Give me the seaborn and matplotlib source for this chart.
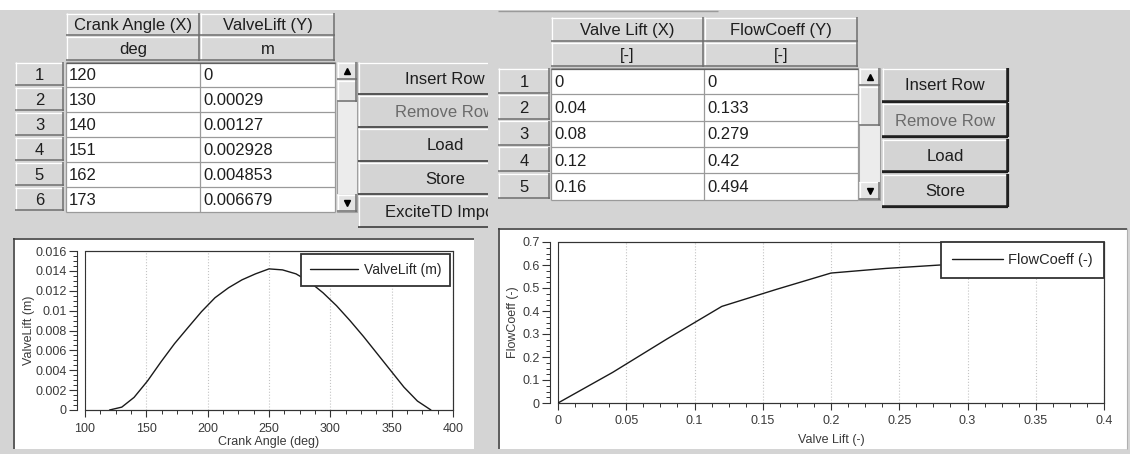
import matplotlib
matplotlib.use("Agg")
import matplotlib.pyplot as plt
from matplotlib.patches import Rectangle
from matplotlib.ticker import MultipleLocator, AutoMinorLocator, FuncFormatter
import pandas as pd
import seaborn as sns

# valve lift curve (left table + left chart)
crank_angle = [120, 130, 140, 151, 162, 173, 184, 195, 206, 217, 228, 239, 250,
               261, 272, 283, 294, 305, 316, 327, 338, 349, 360, 371, 382]
valve_lift = [0, 0.00029, 0.00127, 0.002928, 0.004853, 0.006679, 0.0083, 0.0099,
              0.0113, 0.0123, 0.0131, 0.0137, 0.0142, 0.0141, 0.0137, 0.0129,
              0.0118, 0.0105, 0.0090, 0.0074, 0.0057, 0.0040, 0.0023, 0.0009, 0]

# flow coefficient (right table + right chart)
lift_ratio = [0, 0.04, 0.08, 0.12, 0.16, 0.2, 0.24, 0.28, 0.32]
flow_coeff = [0, 0.133, 0.279, 0.42, 0.494, 0.565, 0.585, 0.6, 0.61]

left_headers = ["Crank Angle (X)", "ValveLift (Y)"]
left_units = ["deg", "m"]
right_headers = ["Valve Lift (X)", "FlowCoeff (Y)"]
right_units = ["[-]", "[-]"]
left_buttons = ["Insert Row", "Remove Row", "Load", "Store", "ExciteTD Import"]
right_buttons = ["Insert Row", "Remove Row", "Load", "Store"]

W, H = 1130, 454
GREY = "#d4d4d4"
INK = "#1e1e1e"

sns.set_style("ticks")
plt.rcParams["font.family"] = ["Liberation Sans", "DejaVu Sans"]

fig = plt.figure(figsize=(W / 100, H / 100), dpi=100, facecolor=GREY)
ui = fig.add_axes([0, 0, 1, 1])
ui.set_xlim(0, W)
ui.set_ylim(H, 0)
ui.axis("off")


def px_axes(x0, y0, x1, y1):
    return fig.add_axes([x0 / W, 1 - y1 / H, (x1 - x0) / W, (y1 - y0) / H])


def box(x0, y0, x1, y1, fc, ec="none", lw=0.75):
    r = Rectangle((x0, y0), x1 - x0, y1 - y0, facecolor=fc, edgecolor=ec, lw=lw)
    ui.add_patch(r)
    return r


def line(xs, ys, color, lw=0.75):
    return ui.plot(xs, ys, color=color, lw=lw, solid_capstyle="butt")


def raised(x0, y0, x1, y1, fc="#d8d8d8", dark="#6e6e6e", clip=None):
    arts = [box(x0, y0, x1, y1, fc)]
    arts += line([x0, x1 - 1], [y0 + 0.5, y0 + 0.5], "white", 0.9)
    arts += line([x0 + 0.5, x0 + 0.5], [y0, y1 - 1], "white", 0.9)
    arts += line([x0, x1], [y1 - 0.75, y1 - 0.75], dark, 1.1)
    arts += line([x1 - 0.75, x1 - 0.75], [y0, y1], dark, 1.1)
    if clip is not None:
        for a in arts:
            a.set_clip_path(clip)


def label(x, y, s, ha="center", color=INK, size=12, clip=None):
    t = ui.text(x, y, s, ha=ha, va="center", fontsize=size, color=color,
                clip_on=clip is not None)
    if clip is not None:
        t.set_clip_path(clip)


def table(num_x, col_x, head_y, row_y0, row_h, headers, units, xs, ys):
    # header rows
    for i in range(2):
        raised(col_x[i], head_y[0], col_x[i + 1], head_y[1])
        label((col_x[i] + col_x[i + 1]) / 2, (head_y[0] + head_y[1]) / 2 + 1, headers[i])
        raised(col_x[i], head_y[1], col_x[i + 1], head_y[2])
        label((col_x[i] + col_x[i + 1]) / 2, (head_y[1] + head_y[2]) / 2 + 1, units[i])
    n = len(xs)
    y_end = row_y0 + n * row_h
    box(col_x[0], row_y0, col_x[2], y_end, "white")
    for r in range(n):
        y0 = row_y0 + r * row_h
        raised(num_x[0], y0, num_x[1], y0 + row_h - 1)
        label((num_x[0] + num_x[1]) / 2, y0 + row_h / 2 + 1, str(r + 1))
        line([col_x[0], col_x[2]], [y0, y0], "#9a9a9a", 0.9)
        label(col_x[0] + 3, y0 + row_h / 2 + 1, f"{xs[r]:g}", ha="left")
        label(col_x[1] + 3, y0 + row_h / 2 + 1, f"{ys[r]:g}", ha="left")
    line([col_x[0], col_x[2]], [y_end, y_end], "#9a9a9a", 0.9)
    for x in col_x:
        line([x, x], [row_y0, y_end], "#9a9a9a", 0.9)
    line([col_x[0], col_x[2]], [row_y0 + 0.5, row_y0 + 0.5], "#606060", 0.9)


def scrollbar(x0, x1, y0, y1, thumb_h):
    box(x0, y0, x1, y1, "#ececec", ec="#a0a0a0")
    raised(x0, y0, x1, y0 + 18, fc="#e4e4e4")
    raised(x0, y0 + 18, x1, y0 + 18 + thumb_h, fc="#e4e4e4")
    raised(x0, y1 - 18, x1, y1, fc="#e4e4e4")
    xm = (x0 + x1) / 2
    ui.plot([xm], [y0 + 9], marker="^", ms=4, color="black")
    ui.plot([xm], [y1 - 9], marker="v", ms=4, color="black")


# page background
box(0, 0, W, 10, "white")
line([498, 718], [11, 11], "#9a9a9a", 1.0)

# left table
table([15, 64], [66, 200, 335], [13, 36, 61], 62, 25, left_headers, left_units,
      crank_angle[:6], valve_lift[:6])
scrollbar(337, 357, 62, 212, 22)
clip_left = Rectangle((340, 0), 148, 236, transform=ui.transData)
left_btn_y = [62, 95, 128, 162, 195, 228]
for i, name in enumerate(left_buttons):
    raised(358, left_btn_y[i], 532, left_btn_y[i + 1], fc=GREY, dark="#303030", clip=clip_left)
    label(445, (left_btn_y[i] + left_btn_y[i + 1]) / 2 + 1, name,
          color="#6a6a6a" if name == "Remove Row" else INK, clip=clip_left)

# right table
table([498, 550], [551, 704, 858], [17, 42, 67], 68, 26.3, right_headers, right_units,
      lift_ratio[:5], flow_coeff[:5])
scrollbar(859, 880, 68, 68 + 5 * 26.3, 40)
right_btn_y = [(68, 102), (103, 137), (139, 172), (174, 207)]
for (y0, y1), name in zip(right_btn_y, right_buttons):
    raised(882, y0, 1008, y1, fc=GREY, dark="#202020")
    line([882, 1008], [y1 - 0.5, y1 - 0.5], "#202020", 1.6)
    line([1007.5, 1007.5], [y0, y1], "#202020", 1.6)
    label(945, (y0 + y1) / 2 + 1, name, color="#6a6a6a" if name == "Remove Row" else INK)

# chart panels
box(13, 238, 474, 449, "white")
line([13, 474], [238.5, 238.5], "#404040", 1.2)
line([13.5, 13.5], [238, 449], "#404040", 1.2)
box(498, 228, 1127, 449, "white")
line([498, 1127], [228.5, 228.5], "#404040", 1.2)
line([498.5, 498.5], [228, 449], "#404040", 1.2)
line([1126.5, 1126.5], [228, 449], "#b0b0b0", 0.8)

fmt = FuncFormatter(lambda v, p: f"{v:g}")


def style_chart(ax, xmaj, ymaj):
    ax.set_facecolor("white")
    for s in ax.spines.values():
        s.set_color("#333333")
        s.set_linewidth(0.8)
    ax.spines["left"].set_position(("outward", 6))
    ax.add_patch(Rectangle((0, 0), 1, 1, transform=ax.transAxes, fill=False,
                           ec="#333333", lw=0.8, clip_on=False))
    ax.xaxis.set_major_locator(MultipleLocator(xmaj))
    ax.yaxis.set_major_locator(MultipleLocator(ymaj))
    ax.xaxis.set_minor_locator(AutoMinorLocator(4))
    ax.yaxis.set_minor_locator(AutoMinorLocator(4))
    ax.xaxis.set_major_formatter(fmt)
    ax.yaxis.set_major_formatter(fmt)
    ax.tick_params(which="major", direction="out", length=5, width=0.8,
                   color="#333333", labelcolor="#3a3a3a", labelsize=9)
    ax.tick_params(axis="y", which="major", length=6, pad=1)
    ax.tick_params(axis="x", which="major", pad=4)
    ax.tick_params(which="minor", direction="out", length=3, width=0.7, color="#333333")
    ax.grid(axis="x", which="major", color="#c4c4c4", ls=":", lw=0.8)
    ax.grid(axis="y", visible=False)


# left chart
df_lift = pd.DataFrame({"Crank Angle (deg)": crank_angle, "ValveLift (m)": valve_lift})
ax1 = px_axes(85, 251, 453, 410)
sns.lineplot(data=df_lift, x="Crank Angle (deg)", y="ValveLift (m)", ax=ax1,
             color="#1a1a1a", lw=1.0, label="ValveLift (m)")
ax1.set_xlim(100, 400)
ax1.set_ylim(0, 0.016)
style_chart(ax1, 50, 0.002)
ax1.set_xlabel("Crank Angle (deg)", fontsize=9, color="#3a3a3a")
ax1.set_ylabel("ValveLift (m)", fontsize=9, color="#3a3a3a")
ax1.xaxis.set_label_coords(0.5, -0.165)
ax1.yaxis.set_label_coords(-0.135, 0.5)
leg1 = ax1.legend(loc="upper right", fontsize=10, fancybox=False, framealpha=1,
                  edgecolor="#333333", handlelength=3.5, handletextpad=0.4,
                  borderaxespad=0.2, borderpad=0.65)
leg1.get_frame().set_linewidth(1.3)

# right chart
df_flow = pd.DataFrame({"Valve Lift (-)": lift_ratio, "FlowCoeff (-)": flow_coeff})
ax2 = px_axes(558, 242, 1104, 403)
sns.lineplot(data=df_flow, x="Valve Lift (-)", y="FlowCoeff (-)", ax=ax2,
             color="#1a1a1a", lw=1.0, label="FlowCoeff (-)")
ax2.set_xlim(0, 0.4)
ax2.set_ylim(0, 0.7)
style_chart(ax2, 0.05, 0.1)
ax2.set_xlabel("Valve Lift (-)", fontsize=9, color="#3a3a3a")
ax2.set_ylabel("FlowCoeff (-)", fontsize=9, color="#3a3a3a")
ax2.xaxis.set_label_coords(0.5, -0.195)
ax2.yaxis.set_label_coords(-0.072, 0.5)
leg2 = ax2.legend(loc="upper right", fontsize=10.5, fancybox=False, framealpha=1,
                  edgecolor="#333333", handlelength=3.5, handletextpad=0.4,
                  borderaxespad=0.0, borderpad=0.75)
leg2.get_frame().set_linewidth(1.3)

fig.savefig("out.png", dpi=100, facecolor=GREY)
